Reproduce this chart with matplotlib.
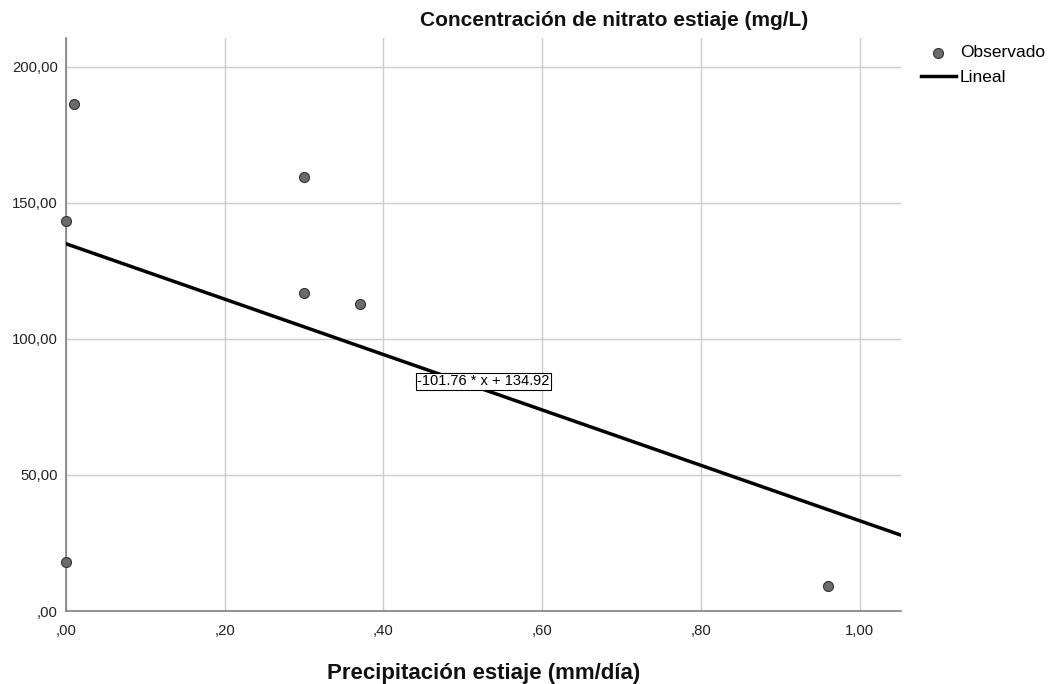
import numpy as np
import matplotlib.pyplot as plt
from matplotlib.ticker import FuncFormatter, MultipleLocator

plt.rcParams['font.family'] = ['Liberation Sans', 'DejaVu Sans']

# observed points (precipitation mm/day, nitrate mg/L)
precip = [0.00, 0.01, 0.00, 0.30, 0.30, 0.37, 0.96]
nitrate = [143.4, 186.3, 18.1, 159.4, 116.7, 112.7, 9.3]

slope = -101.76
intercept = 134.92
label_x = 0.526


def comma_fmt(v, pos):
    s = f"{v:.2f}".replace('.', ',')
    if s.startswith('0,'):
        s = s[1:]
    return s


fig = plt.figure(figsize=(10.56, 6.84), dpi=100)
ax = fig.add_axes([0.0625, 0.1067, 0.7907, 0.8377])

xmax = 1.052
ax.set_xlim(0, xmax)
ax.set_ylim(0, 210.5)

ax.grid(True, color='#cccccc', linewidth=1)
ax.set_axisbelow(True)

xl = np.array([0, xmax])
ax.plot(xl, intercept + slope * xl, color='black', linewidth=2.5, label='Lineal',
        clip_on=True, zorder=3)
ax.scatter(precip, nitrate, s=52, facecolor='#6b6b6b', edgecolor='#333333',
           linewidth=0.8, label='Observado', zorder=4, clip_on=False)

ax.text(label_x, intercept + slope * label_x + 3, f"{slope:.2f} * x + {intercept:.2f}",
        ha='center', va='center', fontsize=10.5, zorder=5,
        bbox=dict(boxstyle='square,pad=0.12', facecolor='white', edgecolor='black', linewidth=0.8))

ax.xaxis.set_major_locator(MultipleLocator(0.2))
ax.yaxis.set_major_locator(MultipleLocator(50))
ax.xaxis.set_major_formatter(FuncFormatter(comma_fmt))
ax.yaxis.set_major_formatter(FuncFormatter(comma_fmt))
ax.tick_params(length=0, labelsize=10.7, colors='#222222', pad=6)
ax.tick_params(axis='x', pad=9)
for lbl in ax.yaxis.get_majorticklabels():
    lbl.set_verticalalignment('center_baseline')

for side in ['top', 'right']:
    ax.spines[side].set_visible(False)
for side in ['left', 'bottom']:
    ax.spines[side].set_color('#808080')
    ax.spines[side].set_linewidth(1.2)

fig.text(614 / 1056, 1 - 20 / 684, 'Concentración de nitrato estiaje (mg/L)',
         ha='center', va='center', fontsize=15, fontweight='bold', color='#111111')
ax.set_xlabel('Precipitación estiaje (mm/día)', fontsize=16, fontweight='bold',
              color='#111111', labelpad=18)

handles, labels = ax.get_legend_handles_labels()
order = [labels.index('Observado'), labels.index('Lineal')]
leg = ax.legend([handles[i] for i in order], [labels[i] for i in order],
                loc='upper left', bbox_to_anchor=(921 / 1056, 1 - 45 / 684),
                bbox_transform=fig.transFigure, frameon=False, fontsize=12.5,
                handlelength=2.0, handletextpad=0.25, labelspacing=0.55,
                borderpad=0, borderaxespad=0)

fig.savefig('out.png', dpi=100)
